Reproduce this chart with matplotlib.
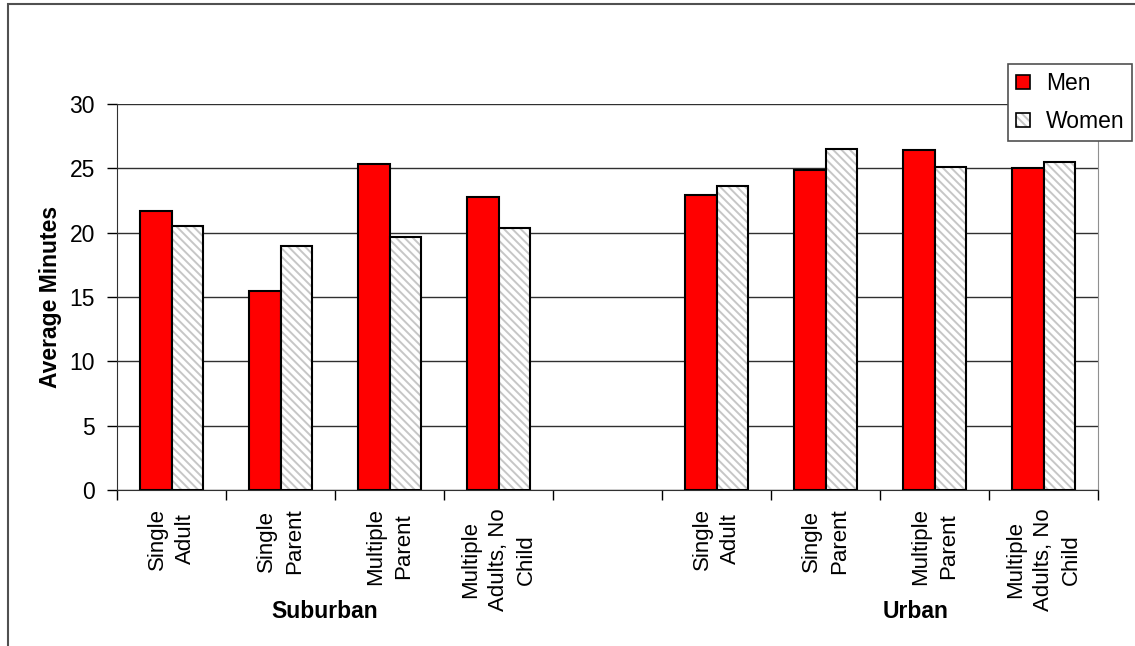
import numpy as np
import matplotlib
matplotlib.use("Agg")
import matplotlib.pyplot as plt
from matplotlib.patches import Rectangle, Patch

plt.rcParams['font.family'] = ['Liberation Sans', 'DejaVu Sans']
plt.rcParams['hatch.linewidth'] = 1.4

# Household types per area; the empty slot separates the two areas
categories = ["Single\nAdult", "Single\nParent", "Multiple\nParent", "Multiple\nAdults, No\nChild",
              "",
              "Single\nAdult", "Single\nParent", "Multiple\nParent", "Multiple\nAdults, No\nChild"]
men = [21.7, 15.5, 25.3, 22.8, np.nan, 22.9, 24.9, 26.4, 25.0]
women = [20.5, 19.0, 19.7, 20.4, np.nan, 23.6, 26.5, 25.1, 25.5]
groups = ["Suburban", "Urban"]
yticks = [0, 5, 10, 15, 20, 25, 30]

HATCH_GREY = '#c6c6c6'
W, H = 1135, 646
fig = plt.figure(figsize=(W / 100, H / 100), dpi=100)

# outer chart frame
fig.patches.append(Rectangle((8 / W, -0.05), 1.2, 1 - 4 / H + 0.05, transform=fig.transFigure,
                             fill=False, edgecolor='#505050', linewidth=1.5))

ax = fig.add_axes([117 / W, 1 - 490 / H, 981 / W, 386 / H])
x = np.arange(len(categories))
bw = 0.29
ax.bar(x - bw / 2, men, bw, color='#ff0000', edgecolor='black', linewidth=1.5, zorder=3)
# women: light grey hatch layer, then a black outline on top
ax.bar(x + bw / 2, women, bw, color='white', edgecolor=HATCH_GREY, linewidth=0, hatch='\\\\\\\\',
       zorder=3)
ax.bar(x + bw / 2, women, bw, fill=False, edgecolor='black', linewidth=1.5, zorder=4)

ax.set_xlim(-0.5, len(categories) - 0.5)
ax.set_ylim(0, 30)
ax.set_yticks(yticks)
ax.yaxis.grid(True, color='#303030', linewidth=1.0, zorder=0)
ax.set_axisbelow(True)

ax.set_xticks(x)
ax.set_xticklabels(categories, rotation=90, fontsize=16, linespacing=1.45,
                   multialignment='center')
ax.tick_params(axis='x', which='major', length=0, pad=13)
ax.set_xticks(np.arange(-0.5, len(categories)), minor=True)
ax.tick_params(axis='x', which='minor', length=7, width=1, color='black', direction='out')
ax.tick_params(axis='y', length=7, width=1, pad=9, labelsize=16.5, direction='out')

ax.spines['top'].set_visible(False)
ax.spines['right'].set_color('#909090')
ax.spines['left'].set_color('#303030')
ax.spines['bottom'].set_color('#303030')

ax.set_ylabel("Average Minutes", fontsize=16.5, fontweight='bold', labelpad=5)

fig.text(325 / W, 1 - 612 / H, groups[0], fontsize=16.5, fontweight='bold', ha='center', va='center')
fig.text(916 / W, 1 - 612 / H, groups[1], fontsize=16.5, fontweight='bold', ha='center', va='center')

men_handle = Patch(facecolor='#ff0000', edgecolor='black', linewidth=1.2)
women_handle = (Patch(facecolor='white', edgecolor=HATCH_GREY, linewidth=0, hatch='\\\\\\\\'),
                Patch(fill=False, edgecolor='black', linewidth=1.2))
leg = fig.legend([men_handle, women_handle], ['Men', 'Women'],
                 loc='upper left', bbox_to_anchor=(1008 / W, 1 - 64 / H), fontsize=16.5,
                 frameon=True, fancybox=False, edgecolor='#505050', framealpha=1,
                 handlelength=0.6, handleheight=0.6, handletextpad=0.7,
                 borderpad=0.35, labelspacing=0.65, borderaxespad=0)
leg.get_frame().set_linewidth(1.2)

fig.savefig("out.png", dpi=100)
